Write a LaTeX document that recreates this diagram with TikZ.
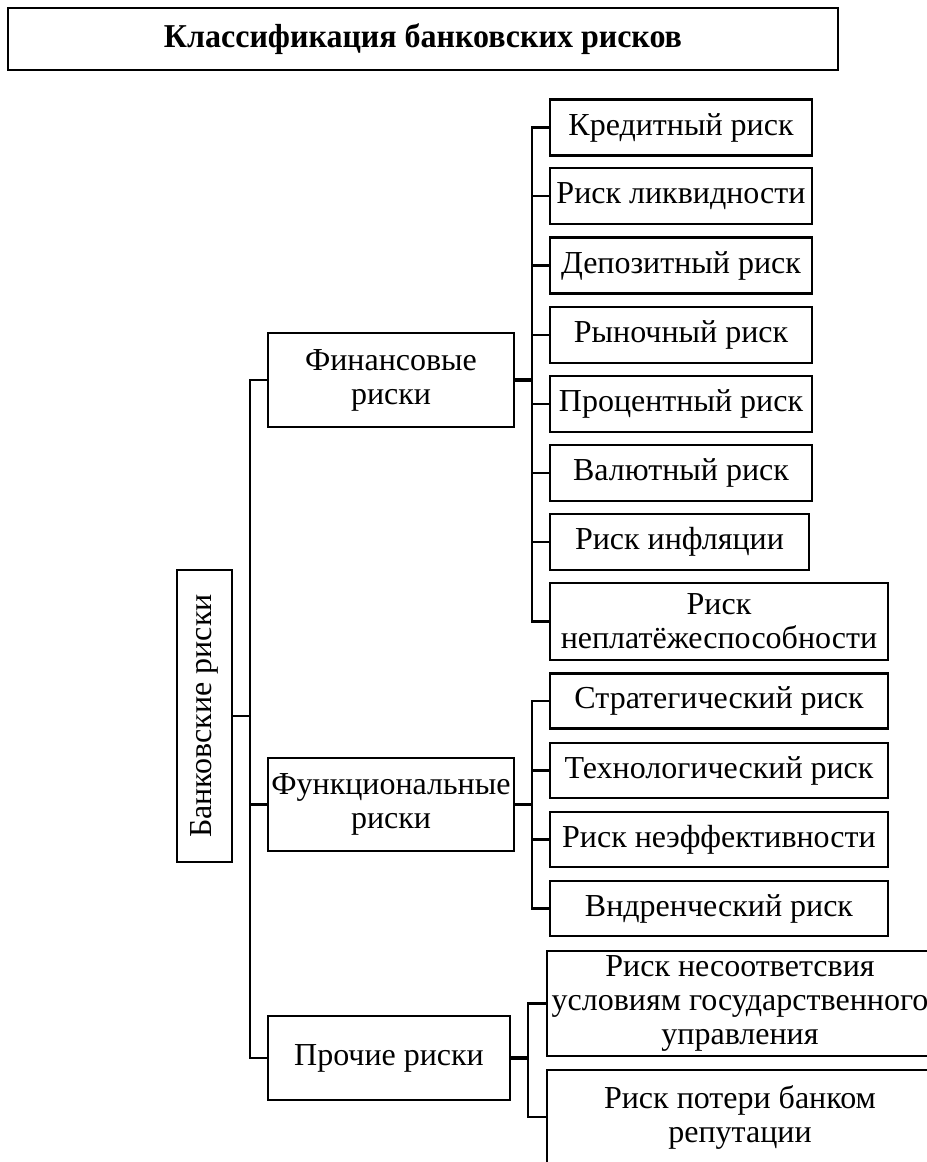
\documentclass[tikz,border=0pt]{standalone}
\usepackage{fontspec}
\setmainfont{Liberation Serif}
\newfontfamily\titlefont[FakeStretch=0.96]{Liberation Serif}
\usepackage{tikz}

\newcommand{\boxfont}{\fontsize{24}{25.5}\selectfont}

\begin{document}
\begin{tikzpicture}[
        x=0.75pt, y=-0.75pt,
        box/.style={rectangle, draw, line width=1.9pt, inner sep=0pt, align=center, font=\boxfont},
        leaf/.style={box, minimum width=196.5pt, minimum height=42pt},
        wideleaf/.style={box, minimum width=253.5pt, minimum height=41.5pt},
        link/.style={line width=1.7pt},
        trunk/.style={line width=2.8pt}
    ]
        \useasboundingbox (0,0) rectangle (926,1162);

        \node[box, minimum width=622.5pt, minimum height=46.5pt, font=\titlefont\bfseries\fontsize{25}{30}\selectfont] (title) at (423,39) {Классификация банковских рисков};

        \node[box, minimum width=41.25pt, minimum height=219pt] (bank) at (204.5,716) {};
        \node[rotate=90, font=\boxfont, inner sep=0pt] (banktext) at (bank.center) {Банковские риски};

        \node[box, minimum width=184.5pt, minimum height=70.5pt] (fin) at (391,380) {Финансовые\\риски};
        \node[box, minimum width=184.5pt, minimum height=70pt] (func) at (391,804.5) {Функциональные\\риски};
        \node[box, minimum width=181.5pt, minimum height=63pt] (other) at (389,1058) {Прочие риски};

        % financial risks
        \node[leaf] (f1) at (681,127.5) {Кредитный риск};
        \node[leaf] (f2) at (681,196) {Риск ликвидности};
        \node[leaf] (f3) at (681,265.5) {Депозитный риск};
        \node[leaf] (f4) at (681,335) {Рыночный риск};
        \node[leaf] (f5) at (681,404) {Процентный риск};
        \node[leaf] (f6) at (681,473) {Валютный риск};
        \node[leaf, minimum width=194.25pt] (f7) at (679.5,542) {Риск инфляции};
        \node[wideleaf, minimum height=57.75pt] (f8) at (719,621.5) {Риск\\неплатёжеспособности};

        % functional risks
        \node[wideleaf] (g1) at (719,701) {Стратегический риск};
        \node[wideleaf] (g2) at (719,770.5) {Технологический риск};
        \node[wideleaf] (g3) at (719,839.5) {Риск неэффективности};
        \node[wideleaf] (g4) at (719,908.5) {Вндренческий риск};

        % other risks
        \node[box, minimum width=289.5pt, minimum height=78.75pt] (h1) at (740,1003.5) {Риск несоответсвия\\условиям государственного\\управления};
        \node[box, minimum width=289.5pt, minimum height=70.5pt] (h2) at (740,1117) {Риск потери банком\\репутации};

        \coordinate (mainbus) at (250,716);
        \coordinate (finbus) at (532,380);
        \coordinate (funcbus) at (532,804.5);
        \coordinate (otherbus) at (528,1058);

        \draw[link] (bank.east) -- (mainbus);
        \draw[link] (fin.west) -| (mainbus) |- (other.west);
        \draw[link] (func.west) -- (func.west -| mainbus);

        \draw[trunk] (fin.east) -- (finbus);
        \draw[trunk] (func.east) -- (funcbus);
        \draw[trunk] (other.east) -- (otherbus);

        \foreach \n in {f1,f2,f3,f4,f5,f6,f7,f8}
            \draw[link] (\n.west) -| (finbus);
        \foreach \n in {g1,g2,g3,g4}
            \draw[link] (\n.west) -| (funcbus);
        \foreach \n in {h1,h2}
            \draw[link] (\n.west) -| (otherbus);
    \end{tikzpicture}
\end{document}
